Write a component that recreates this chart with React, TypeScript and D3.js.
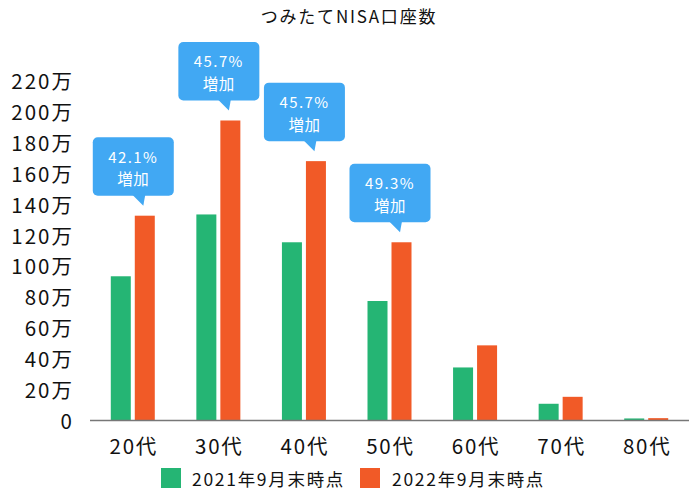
import React from "react";
import * as d3 from "d3";

const categories = ["20代", "30代", "40代", "50代", "60代", "70代", "80代"];
const series2021 = [93, 133, 115, 77, 34, 10.5, 1];
const series2022 = [132.2, 193.8, 167.5, 115, 48.3, 15, 1.2];
const seriesNames = ["2021年9月末時点", "2022年9月末時点"];
const callouts = [
  { cat: "20代", text: "42.1%" },
  { cat: "30代", text: "45.7%" },
  { cat: "40代", text: "45.7%" },
  { cat: "50代", text: "49.3%" },
];
const yTicks = [0, 20, 40, 60, 80, 100, 120, 140, 160, 180, 200, 220];

const GREEN = "#25b574";
const ORANGE = "#f15a27";
const BLUE = "#41a8f3";
const FONT = "'Noto Sans CJK JP', 'Noto Sans', sans-serif";

export default function App() {
  const W = 700, H = 495;
  const x = d3.scaleBand<string>().domain(categories).range([90, 689]).padding(0);
  const y = d3.scaleLinear().domain([0, 220]).range([420, 80]);
  const barW = 20, gap = 4;
  const bx = (c: string, i: number) =>
    (x(c) as number) + x.bandwidth() / 2 - gap / 2 - barW + i * (barW + gap);

  return (
    <svg width={W} height={H} style={{ position: "absolute", left: 0, top: 0, background: "#fff" }} fontFamily={FONT}>
      <text x={349} y={15} textAnchor="middle" dominantBaseline="central" fontSize={17} letterSpacing={1.8} fill="#111">
        つみたてNISA口座数
      </text>
      {yTicks.map((t) => (
        <text key={t} x={74} y={y(t)} textAnchor="end" dominantBaseline="central" fontSize={20.5} letterSpacing={2} fill="#111">
          {t === 0 ? "0" : `${t}万`}
        </text>
      ))}
      {categories.map((c, i) => (
        <g key={c}>
          <rect x={bx(c, 0)} y={y(series2021[i])} width={barW} height={y(0) - y(series2021[i])} fill={GREEN} />
          <rect x={bx(c, 1)} y={y(series2022[i])} width={barW} height={y(0) - y(series2022[i])} fill={ORANGE} />
          <text x={(x(c) as number) + x.bandwidth() / 2 + 1} y={445} textAnchor="middle" dominantBaseline="central" fontSize={20.5} letterSpacing={1.8} fill="#111">
            {c}
          </text>
        </g>
      ))}
      <line x1={90} x2={689} y1={y(0) + 0.5} y2={y(0) + 0.5} stroke="#777" strokeWidth={1.5} />
      {callouts.map((co) => {
        const i = categories.indexOf(co.cat);
        const tipX = bx(co.cat, 1) + barW / 2 - 1.5;
        const tipY = y(series2022[i]) - 10;
        const bottom = tipY - 10;
        const top = bottom - 58.5;
        const cx = (x(co.cat) as number) + x.bandwidth() / 2 + 0.5;
        const left = cx - 40.5;
        return (
          <g key={co.cat}>
            <rect x={left} y={top} width={81} height={58.5} rx={5} fill={BLUE} />
            <path d={`M${tipX - 11},${bottom - 1} L${tipX + 2},${bottom - 1} L${tipX},${tipY} Z`} fill={BLUE} />
            <text x={cx} y={top + 19} textAnchor="middle" dominantBaseline="central" fontSize={15} letterSpacing={1.4} fill="#fff">
              {co.text}
            </text>
            <text x={cx} y={top + 41} textAnchor="middle" dominantBaseline="central" fontSize={15.5} letterSpacing={0.5} fill="#fff">
              増加
            </text>
          </g>
        );
      })}
      {seriesNames.map((n, i) => (
        <g key={n}>
          <rect x={161 + i * 199} y={468} width={20} height={20} fill={i === 0 ? GREEN : ORANGE} />
          <text x={192 + i * 200} y={478} dominantBaseline="central" fontSize={17.5} letterSpacing={1.7} fill="#111">
            {n}
          </text>
        </g>
      ))}
    </svg>
  );
}
